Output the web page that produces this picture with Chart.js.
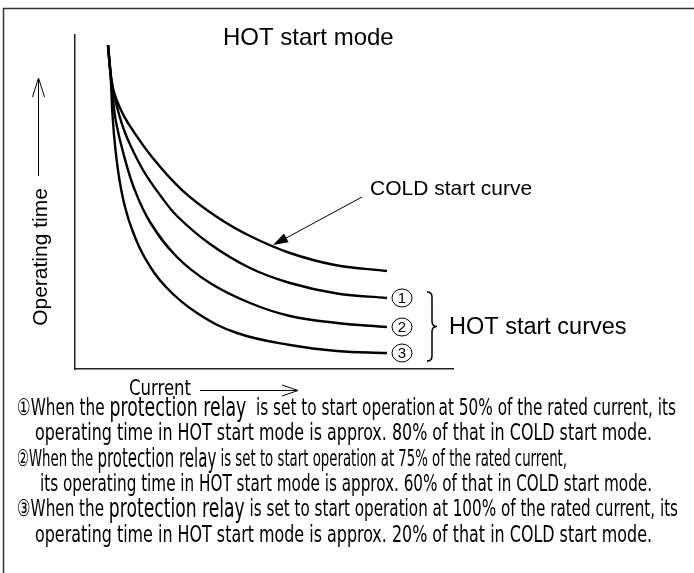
<!DOCTYPE html>
<html>
<head>
<meta charset="utf-8">
<script src="https://cdn.jsdelivr.net/npm/chart.js@4.4.1/dist/chart.umd.min.js"></script>
<style>
  html, body { margin: 0; padding: 0; background: #fff; }
  canvas { display: block; }
</style>
</head>
<body>
<canvas id="curvasHot" width="694" height="573"></canvas>
<script>
// Corriente (eje X, 0-100) y tiempo de operación (eje Y, 0-100)
const coldX = [8.73, 9.39, 10.32, 11.90, 14.02, 20.37, 28.31, 37.57, 46.30, 56.88, 68.78, 82.54];
const coldY = [97.01, 88.62, 82.93, 78.14, 73.65, 63.47, 53.59, 45.51, 39.82, 34.73, 31.14, 29.34];

const hot1X = [8.73, 9.39, 10.05, 11.11, 12.43, 14.02, 17.99, 22.49, 26.98, 35.71, 46.30, 56.88, 69.31, 82.54];
const hot1Y = [97.01, 88.62, 83.53, 78.44, 73.35, 68.56, 59.58, 52.10, 45.81, 37.43, 30.24, 25.75, 22.60, 21.26];

const hot2X = [8.73, 9.39, 10.05, 10.85, 12.70, 15.61, 19.84, 26.98, 35.71, 46.30, 56.88, 69.31, 82.54];
const hot2Y = [97.01, 88.62, 80.54, 73.95, 64.97, 54.19, 44.01, 33.53, 25.75, 19.76, 15.87, 13.77, 12.57];

const hot3X = [8.73, 9.39, 9.92, 10.71, 11.77, 13.23, 15.34, 18.52, 24.07, 32.28, 42.86, 56.88, 69.31, 82.54];
const hot3Y = [97.01, 88.62, 76.05, 65.57, 56.59, 48.50, 41.02, 33.23, 24.55, 16.77, 10.78, 7.19, 5.39, 4.79];

// punta de la flecha "COLD start curve" (sobre la curva COLD)
const puntaCold = { x: 52.4, y: 37.1 };

const notas = [
  ["①When the ", "protection relay", "  is set to start operation\u2009at 50% of the rated current, its"],
  ["operating time in HOT start mode is approx. 80% of that in COLD start mode."],
  ["②When the ", "protection relay", " is set to start operation at 75% of the rated current,"],
  ["its operating time in HOT start mode is approx. 60% of that in COLD start mode."],
  ["③When the ", "protection relay", " is set to start operation at 100% of the rated current, its"],
  ["operating time in HOT start mode is approx. 20% of that in COLD start mode."]
];
// inicio / fin horizontal y centro vertical de cada línea de notas
const notasX0 = [17, 35, 17, 40, 17, 35];
const notasX1 = [676, 652, 567, 652, 678, 652];
const notasY = [409, 434.5, 460, 485, 510.5, 536];

const ARIAL = '"Liberation Sans", Arial, sans-serif';
const NARROW = '"Liberation Sans Narrow", "DejaVu Sans Condensed", "Liberation Sans", sans-serif';

const pares = (xs, ys) => xs.map((x, i) => ({ x, y: ys[i] }));

const curva = (data) => ({
  data,
  showLine: true,
  borderColor: "#000",
  borderWidth: 2.4,
  pointRadius: 0,
  tension: 0.4,
  fill: false
});

function textoAjustado(ctx, segmentos, x0, x1, y, tam) {
  const fuentes = segmentos.map((s, k) => (segmentos.length === 3 && k === 1)
    ? (tam + 3) + "px " + NARROW : tam + "px " + NARROW);
  let total = 0;
  const anchos = segmentos.map((s, k) => {
    ctx.font = fuentes[k];
    const w = ctx.measureText(s).width;
    total += w;
    return w;
  });
  const esc = (x1 - x0) / total;
  ctx.save();
  ctx.translate(x0, y);
  ctx.scale(esc, 1);
  let x = 0;
  segmentos.forEach((s, k) => {
    ctx.font = fuentes[k];
    ctx.fillText(s, x, 0);
    x += anchos[k];
  });
  ctx.restore();
}

const anotaciones = {
  id: "anotaciones",
  afterDraw(chart) {
    const ctx = chart.ctx;
    const sx = chart.scales.x, sy = chart.scales.y;
    ctx.save();
    ctx.fillStyle = "#000";

    // marco exterior
    ctx.lineWidth = 1.5;
    ctx.strokeStyle = "#333";
    ctx.beginPath();
    ctx.moveTo(3.5, 573);
    ctx.lineTo(3.5, 8.5);
    ctx.lineTo(694, 8.5);
    ctx.stroke();
    ctx.strokeStyle = "#000";

    // título
    ctx.font = "24px " + ARIAL;
    ctx.textAlign = "left";
    ctx.textBaseline = "alphabetic";
    ctx.fillText("HOT start mode", 223, 45);

    // eje Y: texto + flecha
    ctx.save();
    ctx.translate(47, 257);
    ctx.rotate(-Math.PI / 2);
    ctx.font = "21px " + ARIAL;
    ctx.textAlign = "center";
    ctx.fillText("Operating time", 0, 0);
    ctx.restore();
    ctx.lineWidth = 1;
    ctx.beginPath();
    ctx.moveTo(38.5, 176);
    ctx.lineTo(38.5, 79);
    ctx.moveTo(32.5, 97);
    ctx.lineTo(38.5, 78);
    ctx.lineTo(44.5, 97);
    ctx.stroke();

    // eje X: texto + flecha
    ctx.textBaseline = "middle";
    textoAjustado(ctx, ["Current"], 129, 191, 389, 22);
    ctx.beginPath();
    ctx.moveTo(200, 390.5);
    ctx.lineTo(297, 390.5);
    ctx.moveTo(282, 385);
    ctx.lineTo(298, 390.5);
    ctx.lineTo(282, 396);
    ctx.stroke();

    // COLD start curve + flecha
    ctx.textBaseline = "alphabetic";
    ctx.font = "21px " + ARIAL;
    ctx.fillText("COLD start curve", 370, 195);
    const tx = sx.getPixelForValue(puntaCold.x), ty = sy.getPixelForValue(puntaCold.y);
    const ox = 362, oy = 197;
    const ang = Math.atan2(ty - oy, tx - ox);
    ctx.beginPath();
    ctx.moveTo(ox, oy);
    ctx.lineTo(tx - 12 * Math.cos(ang), ty - 12 * Math.sin(ang));
    ctx.stroke();
    ctx.beginPath();
    ctx.moveTo(tx, ty);
    ctx.lineTo(tx - 15 * Math.cos(ang) + 5 * Math.sin(ang), ty - 15 * Math.sin(ang) - 5 * Math.cos(ang));
    ctx.lineTo(tx - 15 * Math.cos(ang) - 5 * Math.sin(ang), ty - 15 * Math.sin(ang) + 5 * Math.cos(ang));
    ctx.closePath();
    ctx.fill();

    // números en círculo al final de las curvas HOT
    [hot1X, hot2X, hot3X].forEach((xs, k) => {
      const ys = [hot1Y, hot2Y, hot3Y][k];
      const px = sx.getPixelForValue(xs[xs.length - 1]) + 15;
      const py = sy.getPixelForValue(ys[ys.length - 1]);
      ctx.lineWidth = 1;
      ctx.beginPath();
      ctx.ellipse(px, py, 10, 9, 0, 0, Math.PI * 2);
      ctx.stroke();
      ctx.font = "15px " + ARIAL;
      ctx.textAlign = "center";
      ctx.textBaseline = "middle";
      ctx.fillText(String(k + 1), px, py + 1);
    });

    // llave + texto HOT start curves
    ctx.lineWidth = 1.5;
    ctx.beginPath();
    ctx.moveTo(427, 292);
    ctx.quadraticCurveTo(432, 292, 432, 297);
    ctx.lineTo(432, 321.5);
    ctx.quadraticCurveTo(432, 326.5, 437, 326.5);
    ctx.quadraticCurveTo(432, 326.5, 432, 331.5);
    ctx.lineTo(432, 356);
    ctx.quadraticCurveTo(432, 361, 427, 361);
    ctx.stroke();
    ctx.font = "23.5px " + ARIAL;
    ctx.textAlign = "left";
    ctx.textBaseline = "alphabetic";
    ctx.fillText("HOT start curves", 449, 334);

    // notas
    ctx.textBaseline = "middle";
    notas.forEach((segs, i) => textoAjustado(ctx, segs, notasX0[i], notasX1[i], notasY[i], 23));

    ctx.restore();
  }
};

const ejeSinMarcas = {
  type: "linear",
  min: 0,
  max: 100,
  grid: { display: false, drawTicks: false },
  ticks: { display: false },
  border: { display: true, color: "#222", width: 1.5 }
};

new Chart(document.getElementById("curvasHot"), {
  type: "scatter",
  data: {
    datasets: [
      curva(pares(coldX, coldY)),
      curva(pares(hot1X, hot1Y)),
      curva(pares(hot2X, hot2Y)),
      curva(pares(hot3X, hot3Y))
    ]
  },
  options: {
    responsive: false,
    animation: false,
    layout: { padding: { left: 75, right: 241, top: 35, bottom: 204 } },
    scales: { x: ejeSinMarcas, y: ejeSinMarcas },
    plugins: { legend: { display: false }, tooltip: { enabled: false } }
  },
  plugins: [anotaciones]
});
</script>
</body>
</html>
